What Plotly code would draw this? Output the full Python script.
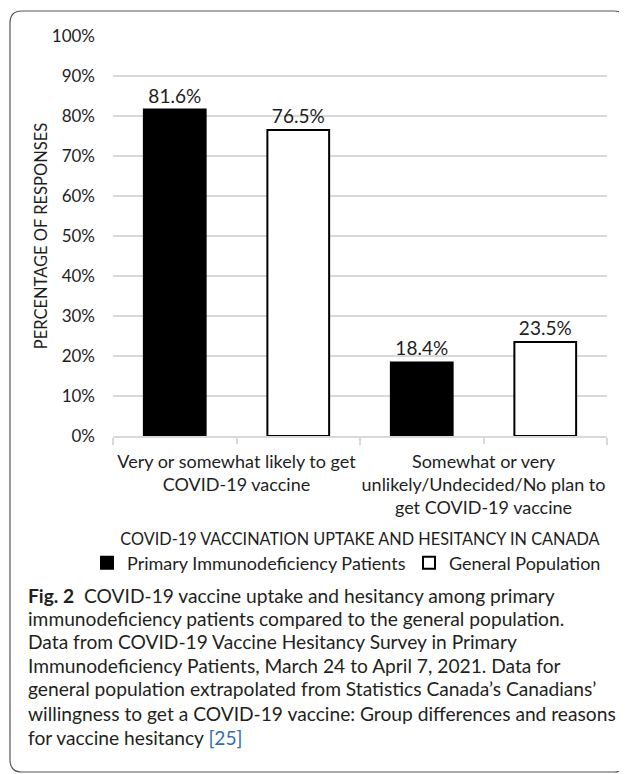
import plotly.graph_objects as go

# ---- data ----
categories = [
    "Very or somewhat likely to get<br>COVID-19 vaccine",
    "Somewhat or very<br>unlikely/Undecided/No plan to<br>get COVID-19 vaccine",
]
pid_patients = [81.6, 18.4]
general_population = [76.5, 23.5]
series_names = ["Primary Immunodeficiency Patients", "General Population"]

caption_lines = [
    "<b>Fig. 2</b>  COVID-19 vaccine uptake and hesitancy among primary",
    "immunodeficiency patients compared to the general population.",
    "Data from COVID-19 Vaccine Hesitancy Survey in Primary",
    "Immunodeficiency Patients, March 24 to April 7, 2021. Data for",
    "general population extrapolated from Statistics Canada’s Canadians’",
    "willingness to get a COVID-19 vaccine: Group differences and reasons",
    "for vaccine hesitancy <span style='color:#2f6db5'>[25]</span>",
]

# ---- page geometry (pixels of the browser window) ----
OFF = 8  # default body margin of the html page
W, H = 627 - OFF, 774 - OFF
PLOT_X0, PLOT_X1, PLOT_Y0, PLOT_Y1 = 113, 607, 36, 436
L, R = PLOT_X0 - OFF, W - (PLOT_X1 - OFF)
T, B = PLOT_Y0 - OFF, H - (PLOT_Y1 - OFF)
PW, PH = W - L - R, H - T - B

CHART_FONT = "Lato"
CAPTION_FONT = "Lato"
TEXT = "#1e1e1e"
GRID = "#d9d9d9"


def px(x):
    return (x - PLOT_X0) / PW


def py(y):
    return (PLOT_Y1 - y) / PH


fig = go.Figure()

fig.add_trace(go.Bar(
    x=categories, y=pid_patients, name=series_names[0], legend="legend",
    marker=dict(color="black", line=dict(color="black", width=2)),
    texttemplate="%{y:.1f}%", textposition="outside",
    textfont=dict(size=19, color=TEXT), cliponaxis=False,
))
fig.add_trace(go.Bar(
    x=categories, y=general_population, name=series_names[1], legend="legend2",
    marker=dict(color="white", line=dict(color="black", width=2)),
    texttemplate="%{y:.1f}%", textposition="outside",
    textfont=dict(size=19, color=TEXT), cliponaxis=False,
))
# invisible helper trace so the overlay axis draws ticks at category centres
fig.add_trace(go.Scatter(
    x=categories, y=[0, 0], xaxis="x2", mode="markers",
    marker=dict(opacity=0), showlegend=False, hoverinfo="skip",
))

legend_style = dict(
    orientation="h", xanchor="left", yanchor="middle", y=py(563),
    font=dict(size=18, color=TEXT), itemwidth=30, bgcolor="rgba(0,0,0,0)",
)

fig.update_layout(
    width=W, height=H,
    margin=dict(l=L, r=R, t=T, b=B),
    paper_bgcolor="white", plot_bgcolor="white",
    font=dict(family=CHART_FONT, color=TEXT),
    barmode="group", bargap=0.0, bargroupgap=0.5,
    showlegend=True,
    legend=dict(legend_style, x=px(128 - 41)),
    legend2=dict(legend_style, x=px(450 - 41)),
    xaxis=dict(
        tickson="boundaries", ticks="outside", ticklen=7, tickcolor=GRID,
        tickwidth=2, showline=True, linecolor=GRID, linewidth=2,
        tickangle=0, tickfont=dict(size=18, color=TEXT), ticklabelstandoff=8,
        title=dict(text="COVID-19 VACCINATION UPTAKE AND HESITANCY IN CANADA",
                   font=dict(size=16.3, color=TEXT), standoff=16),
        showgrid=False, zeroline=False, automargin=False,
    ),
    xaxis2=dict(
        overlaying="x", matches="x", side="bottom", ticks="outside",
        ticklen=7, tickcolor=GRID, tickwidth=2, showticklabels=False,
        showgrid=False, showline=False, zeroline=False,
    ),
    yaxis=dict(
        range=[0, 100], dtick=10, ticksuffix="%",
        showgrid=True, gridcolor=GRID, gridwidth=2, zeroline=False,
        tickfont=dict(size=17, color=TEXT), ticklabelstandoff=17,
        title=dict(text="PERCENTAGE OF RESPONSES",
                   font=dict(size=16.5, color=TEXT), standoff=0),
        automargin=False,
    ),
)

# caption below the chart
caption_y = [595, 618, 641, 665, 689, 713, 737]
for line, yy in zip(caption_lines, caption_y):
    fig.add_annotation(
        text=line, xref="paper", yref="paper", x=px(26), y=py(yy),
        xanchor="left", yanchor="middle", showarrow=False, align="left",
        font=dict(family=CAPTION_FONT, size=19.2, color="#231f20"),
    )

# rounded frame around the whole figure
x0, x1, y0, y1, r = 10, 626, 11, 772, 12
path = (
    f"M {px(x0 + r)} {py(y0)} L {px(x1 - r)} {py(y0)} "
    f"Q {px(x1)} {py(y0)} {px(x1)} {py(y0 + r)} "
    f"L {px(x1)} {py(y1 - r)} Q {px(x1)} {py(y1)} {px(x1 - r)} {py(y1)} "
    f"L {px(x0 + r)} {py(y1)} Q {px(x0)} {py(y1)} {px(x0)} {py(y1 - r)} "
    f"L {px(x0)} {py(y0 + r)} Q {px(x0)} {py(y0)} {px(x0 + r)} {py(y0)} Z"
)
fig.add_shape(type="path", path=path, xref="paper", yref="paper",
              line=dict(color="#555555", width=1.2), layer="above")

fig.write_html("out.html")
